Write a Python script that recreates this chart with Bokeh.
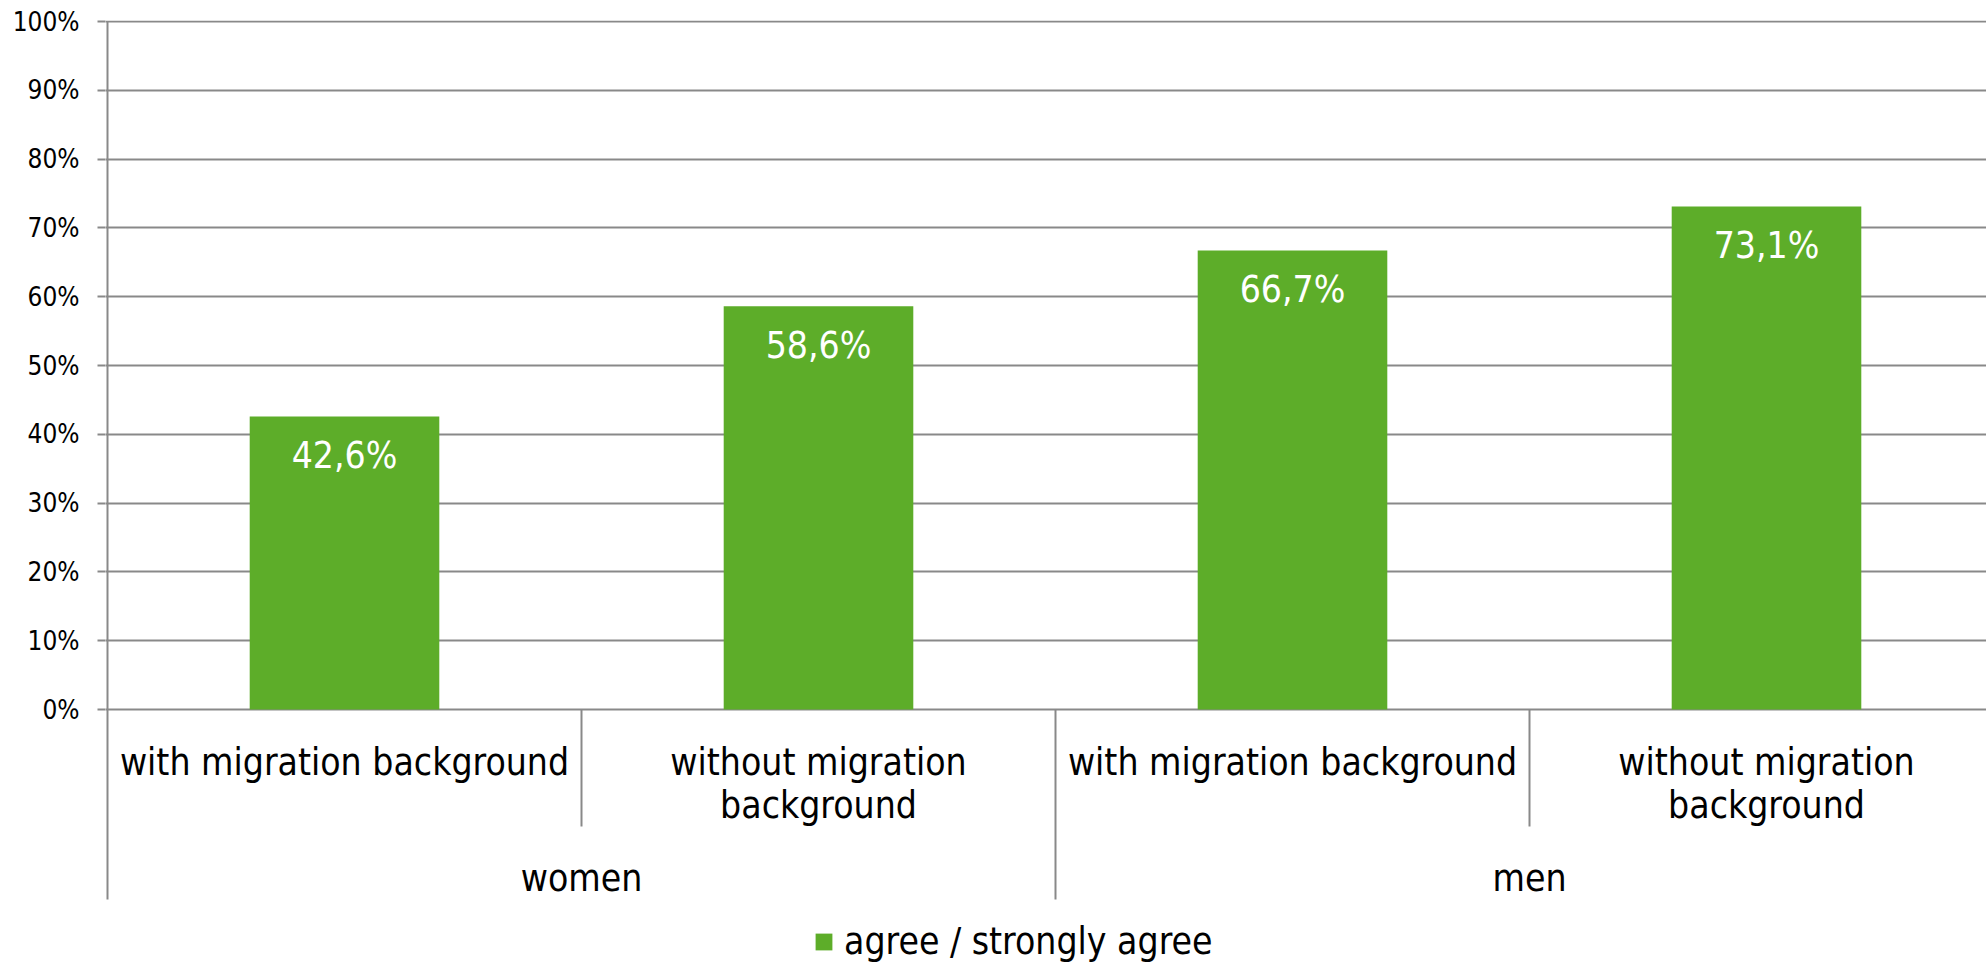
from bokeh.plotting import figure
from bokeh.models import Range1d, FixedTicker, PrintfTickFormatter, Legend, LegendItem, ColumnDataSource
from bokeh.core.properties import value
from bokeh.embed import file_html
from bokeh.resources import INLINE

# ---- data ----
groups = ["women", "men"]
subcategories = ["with migration background", "without migration\nbackground",
                 "with migration background", "without migration\nbackground"]
agree = [42.6, 58.6, 66.7, 73.1]
series_name = "agree / strongly agree"
y_ticks = [0, 10, 20, 30, 40, 50, 60, 70, 80, 90, 100]

FONT = "DejaVu Sans Condensed"
GREEN = "#5DAD29"
GRID = "#898989"
PXU = 6.88  # px per percent
Y0 = 709    # screen y of 0%
TXT_FIX = -11

p = figure(width=1986, height=963, output_backend="svg", toolbar_location=None,
           x_axis_type=None,
           x_range=Range1d(-2 / 474, (1986 - 107) / 474),
           y_range=Range1d(-(963 - Y0) / PXU, 100 + 1 / PXU),
           min_border_left=105, min_border_right=0, min_border_top=20, min_border_bottom=0)
p.outline_line_color = None
p.background_fill_color = "white"

# y axis
ax = p.yaxis[0]
ax.ticker = FixedTicker(ticks=y_ticks)
ax.formatter = PrintfTickFormatter(format="%d%%")
ax.axis_line_color = None
ax.major_tick_line_color = GRID
ax.major_tick_line_width = 2
ax.major_tick_out = 8
ax.major_tick_in = 0
ax.minor_tick_line_color = None
ax.major_label_standoff = 18
ax.major_label_text_font = FONT
ax.major_label_text_font_size = "26px"
ax.major_label_text_color = "black"
p.ygrid.grid_line_color = GRID
p.ygrid.grid_line_width = 2

n = len(agree)
xc = [i + 0.5 for i in range(n)]
src = ColumnDataSource(dict(x=xc, top=agree,
                            lab=[f"{v:.1f}".replace(".", ",") + "%" for v in agree]))
bars = p.vbar(x="x", top="top", width=0.4, bottom=0, source=src,
              fill_color=GREEN, line_color=None)
p.text(x="x", y="top", text="lab", source=src, text_color="white",
       text_font=value(FONT), text_font_size="37px", text_align="center",
       text_baseline="alphabetic", y_offset=50 + TXT_FIX)

# separators / axis line
y_sub = -(826 - Y0) / PXU
y_grp = -(899 - Y0) / PXU
p.segment(x0=[0], y0=[100], x1=[0], y1=[y_grp], line_color=GRID, line_width=2)
sep_x = [i for i in range(1, n)]
sep_bottom = [y_grp if i % 2 == 0 else y_sub for i in sep_x]
p.segment(x0=sep_x, y0=[0] * len(sep_x), x1=sep_x, y1=sep_bottom,
          line_color=GRID, line_width=2)

# category labels
lx, ly, lt = [], [], []
for i, lab in enumerate(subcategories):
    for j, line in enumerate(lab.split("\n")):
        lx.append(i + 0.5)
        ly.append(-(773 - Y0) / PXU - j * 43 / PXU)
        lt.append(line)
p.text(x=lx, y=ly, text=lt, text_color="black", text_font=value(FONT),
       text_font_size="37px", text_align="center", text_baseline="alphabetic",
       y_offset=TXT_FIX)

gx = [2 * k + 1 for k in range(len(groups))]
p.text(x=gx, y=[-(889 - Y0) / PXU] * len(groups), text=groups, text_color="black",
       text_font=value(FONT), text_font_size="37px", text_align="center",
       text_baseline="alphabetic", y_offset=TXT_FIX)

legend = Legend(items=[LegendItem(label=series_name, renderers=[bars])],
                location=(708, 0), orientation="horizontal",
                glyph_width=21, glyph_height=21, label_standoff=10,
                padding=0, margin=0, border_line_color=None,
                background_fill_alpha=0,
                label_text_font=FONT, label_text_font_size="37px",
                label_text_color="black")
p.add_layout(legend)

open("out.html", "w").write(file_html(p, INLINE))
